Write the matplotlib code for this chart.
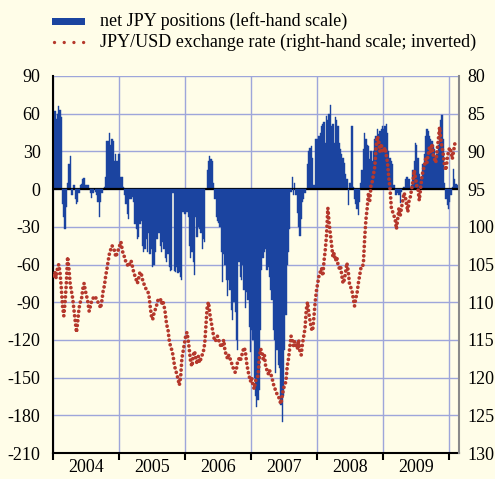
import numpy as np
import matplotlib
matplotlib.use("Agg")
import matplotlib.pyplot as plt
from matplotlib.lines import Line2D
from matplotlib.patches import Rectangle

# ---------------- data (weekly) ----------------
years = [2004, 2005, 2006, 2007, 2008, 2009, 2010]
year_labels = ["2004", "2005", "2006", "2007", "2008", "2009"]
left_ticks = [90, 60, 30, 0, -30, -60, -90, -120, -150, -180, -210]
right_ticks = [80, 85, 90, 95, 100, 105, 110, 115, 120, 125, 130]

# net JPY positions (left-hand scale)
pos_2004 = [58, 62, 56, 60, 66, 63, 57, -12, -22, -32, -14, 5, 20, 26, -5, -5, 3, -8, -12, -10,
            -3, 3, 4, 8, 9, 3, 3, 3, 0, -3, -7, -3, 0, -2, -5, -10, -22, -10, -3, 0,
            2, 10, 38, 38, 45, 35, 40, 38, 22, 28, 22, 28]
pos_2005 = [28, 10, 10, 2, -5, -12, -20, -24, -8, -8, -6, -10, -28, -32, -40, -38, -28, -25, -45, -50,
            -48, -40, -50, -35, -52, -48, -62, -60, -50, -40, -40, -35, -45, -50, -42, -48, -55, -58, -52, -62,
            -65, -64, -3, -65, -66, -62, -67, -66, -70, -72, -18, -20]
pos_2006 = [-20, -18, -22, -45, -55, -50, -58, -68, -22, -38, -30, -32, -35, -48, -40, -42, 0, 15, 22, 26,
            24, 22, 5, -8, -22, -25, -27, -30, -50, -74, -52, -60, -72, -85, -72, -80, -96, -104, -90, -98,
            -120, -128, -58, -70, -72, -60, -80, -95, -82, -88, -110, -130]
pos_2007 = [-112, -120, -150, -165, -173, -168, -160, -112, -64, -55, -50, -48, -64, -62, -70, -80, -88, -112, -120, -146,
            -128, -140, -142, -172, -185, -165, -128, -100, -60, -50, -32, -2, 10, -5, 5, -5, -19, -30, -37, -24,
            -10, -8, -3, 0, 20, 30, 33, 34, 25, 3, 40, 40]
pos_2008 = [40, 42, 45, 50, 52, 53, 37, 58, 55, 60, 67, 50, 52, 37, 57, 55, 50, 37, 32, 28,
            25, 21, 12, 8, -13, 5, 5, 50, 2, -8, -12, -16, -21, -10, 5, 15, 32, 45, 40, 35,
            34, 24, 30, 22, 30, 40, 42, 48, 44, 46, 48, 50]
pos_2009 = [48, 50, 52, 45, 30, 25, 22, 20, 3, -5, -5, -3, -5, -11, -2, 0, 2, 8, 10, 10,
            8, 0, 3, 15, 22, 37, 35, 25, 12, 8, 10, 20, 28, 42, 48, 46, 42, 40, 38, 35,
            32, 25, 28, 35, 45, 55, 59, 40, 5, -8, -13, -16]
pos_2010 = [-10, -5, 2, 16, 8, 4, 3]

# JPY/USD exchange rate (right-hand scale, inverted)
fx_2004 = [106.5, 106.0, 106.8, 105.5, 105.0, 106.0, 108.0, 110.5, 111.8, 110.0, 107.5, 104.0, 105.5, 107.5, 108.5, 109.5,
           111.0, 112.5, 114.0, 112.5, 110.8, 110.0, 109.5, 108.2, 107.5, 108.5, 109.2, 110.0, 111.2, 110.5, 109.8, 109.5,
           109.2, 109.3, 109.8, 110.0, 110.3, 110.8, 109.8, 108.5, 107.8, 106.5, 105.6, 104.5, 103.5, 103.0, 102.5, 102.8,
           103.2, 104.0, 103.5, 103.0]
fx_2005 = [102.5, 102.0, 103.0, 103.8, 104.0, 104.8, 105.0, 105.3, 104.8, 104.5, 105.2, 106.0, 106.5, 107.0, 107.5, 106.8,
           106.0, 106.2, 107.0, 107.5, 108.0, 108.3, 108.5, 109.0, 110.5, 111.8, 112.3, 111.5, 111.0, 110.5, 109.8, 109.6,
           109.5, 110.2, 109.8, 110.5, 111.5, 113.0, 113.5, 115.0, 115.8, 116.3, 117.0, 118.2, 119.0, 119.5, 120.2, 121.0,
           120.0, 117.5, 116.5, 115.5]
fx_2006 = [114.5, 114.0, 115.0, 116.5, 118.0, 118.5, 117.0, 116.5, 117.5, 118.2, 117.2, 118.0, 117.5, 117.0, 116.5, 115.5,
           113.0, 110.5, 110.0, 111.5, 112.5, 113.5, 114.5, 115.2, 115.0, 114.5, 115.0, 115.5, 116.0, 115.5, 115.0, 116.5,
           117.0, 117.5, 117.0, 117.5, 118.0, 118.5, 119.0, 119.3, 118.8, 117.8, 117.5, 117.8, 117.2, 116.5, 116.0, 116.5,
           118.0, 119.0, 119.8, 120.5]
fx_2007 = [120.0, 121.0, 121.5, 120.5, 120.0, 119.8, 117.5, 116.2, 116.5, 117.5, 117.0, 118.5, 119.0, 119.5, 119.0, 119.5,
           120.0, 120.8, 121.3, 121.8, 122.2, 122.4, 123.0, 123.5, 122.5, 121.5, 121.0, 120.5, 118.5, 117.5, 116.0, 114.5,
           115.0, 115.8, 115.2, 115.8, 116.2, 115.0, 116.5, 117.0, 115.5, 114.5, 113.5, 111.0, 110.0, 111.5, 112.5, 113.5,
           113.8, 112.0, 110.0, 108.5]
fx_2008 = [107.5, 106.5, 106.0, 105.5, 106.5, 104.5, 103.0, 101.0, 97.5, 99.5, 101.0, 102.5, 104.0, 103.5, 104.5, 104.0,
           105.0, 105.5, 105.2, 106.5, 107.5, 107.0, 106.0, 104.8, 105.8, 107.5, 108.0, 108.5, 109.5, 110.5, 109.5, 108.8,
           107.5, 106.5, 105.5, 105.5, 104.8, 101.5, 99.0, 97.5, 95.5, 96.5, 94.5, 94.0, 93.0, 92.0, 89.5, 88.0,
           88.5, 90.0, 89.0, 90.0]
fx_2009 = [90.0, 89.5, 90.5, 91.5, 93.5, 95.0, 97.5, 98.0, 98.5, 99.0, 100.3, 99.0, 97.5, 98.5, 97.5, 96.5,
           95.5, 96.0, 97.0, 98.0, 96.5, 96.0, 95.0, 94.0, 92.5, 93.5, 94.5, 95.0, 96.5, 95.0, 93.5, 92.5,
           92.0, 91.0, 91.5, 90.5, 89.5, 90.0, 89.0, 90.5, 91.0, 91.5, 90.0, 88.5, 86.8, 88.5, 89.5, 90.5,
           92.0, 92.5, 91.0, 90.0]
fx_2010 = [89.5, 90.0, 91.0, 90.0, 89.0, 88.8, 89.0]

pos_by_year = [pos_2004, pos_2005, pos_2006, pos_2007, pos_2008, pos_2009, pos_2010]
fx_by_year = [fx_2004, fx_2005, fx_2006, fx_2007, fx_2008, fx_2009, fx_2010]

# weekly positions on a decimal-year axis
x_all, pos_all, fx_all = [], [], []
for y, p, f in zip(years, pos_by_year, fx_by_year):
    idx = np.arange(len(p))
    x_all.extend(y + (idx + 0.5) / 52.0)
    pos_all.extend(p)
    fx_all.extend(f)
x_all = np.array(x_all)
pos_all = np.array(pos_all, dtype=float)
fx_all = np.array(fx_all, dtype=float)

# ---------------- style ----------------
BG = "#FFFDE8"
BLUE = "#1B44A0"
RED = "#B5382C"
GRID = "#9EA6DA"

plt.rcParams["font.family"] = ["Liberation Serif", "DejaVu Serif"]
plt.rcParams["axes.unicode_minus"] = False

W, H = 495, 479
fig = plt.figure(figsize=(W / 100, H / 100), dpi=100, facecolor=BG)
L, R, T, B = 53, 459, 76, 453
ax = fig.add_axes([L / W, 1 - B / H, (R - L) / W, (B - T) / H])
ax.set_facecolor(BG)

wk = 1 / 52.0
posm = pos_all >= 0
ax.bar(x_all[posm], pos_all[posm], width=wk, color=BLUE, edgecolor=BLUE, linewidth=0.3, zorder=2)
ax.axhline(0, color="black", lw=1.6, zorder=3)
ax.bar(x_all[~posm], pos_all[~posm], width=wk, color=BLUE, edgecolor=BLUE, linewidth=0.3, zorder=4)

ax.set_xlim(2004, 2010.15)
ax.set_ylim(-210, 90)
ax.set_yticks(left_ticks)
ax.set_yticklabels([str(v) for v in left_ticks])
ax.tick_params(axis="y", length=0, pad=9, labelsize=13)

ax.set_xticks(years)
ax.set_xticklabels([])
ax.set_xticks([y + 0.5 for y in years[:-1]], minor=True)
ax.set_xticklabels(year_labels, minor=True)
ax.tick_params(axis="x", which="major", direction="out", length=5, width=1.5, color="black")
ax.tick_params(axis="x", which="minor", length=0, pad=4, labelsize=13)

ax.grid(True, axis="y", color=GRID, lw=1.0, zorder=0)
ax.grid(True, axis="x", which="major", color=GRID, lw=1.0, zorder=0)
ax.set_axisbelow(True)

for s in ["top", "right"]:
    ax.spines[s].set_visible(False)
ax.spines["left"].set_linewidth(1.5)
ax.spines["bottom"].set_linewidth(1.5)
ax.spines["left"].set_color("black")
ax.spines["bottom"].set_color("black")

ax2 = ax.twinx()
ax2.set_ylim(130, 80)
ax2.set_yticks(right_ticks)
ax2.set_yticklabels([str(v) for v in right_ticks])
ax2.tick_params(axis="y", length=0, pad=6, labelsize=13)
for s in ["top", "left", "bottom"]:
    ax2.spines[s].set_visible(False)
ax2.spines["right"].set_color("#8a8a8a")
ax2.spines["right"].set_linewidth(1.5)
ax2.plot(x_all, fx_all, color=RED, lw=2.7, linestyle=(0, (0.01, 1.25)),
         dash_capstyle="round", zorder=5)

# ---------------- legend (manual) ----------------
fig.add_artist(Rectangle((52 / W, 1 - 24.5 / H), 33 / W, 7 / H, transform=fig.transFigure,
                         facecolor=BLUE, edgecolor="none"))
fig.add_artist(Line2D([54 / W, 84 / W], [1 - 42 / H, 1 - 42 / H], transform=fig.transFigure,
                      color=RED, lw=2.4, linestyle=(0, (0.01, 2.9)), dash_capstyle="round"))
fig.text(100 / W, 1 - 21 / H, "net JPY positions (left-hand scale)", fontsize=13, va="center", ha="left")
fig.text(100 / W, 1 - 42 / H, "JPY/USD exchange rate (right-hand scale; inverted)", fontsize=13,
         va="center", ha="left")

fig.savefig("out.png", dpi=100, facecolor=BG)
